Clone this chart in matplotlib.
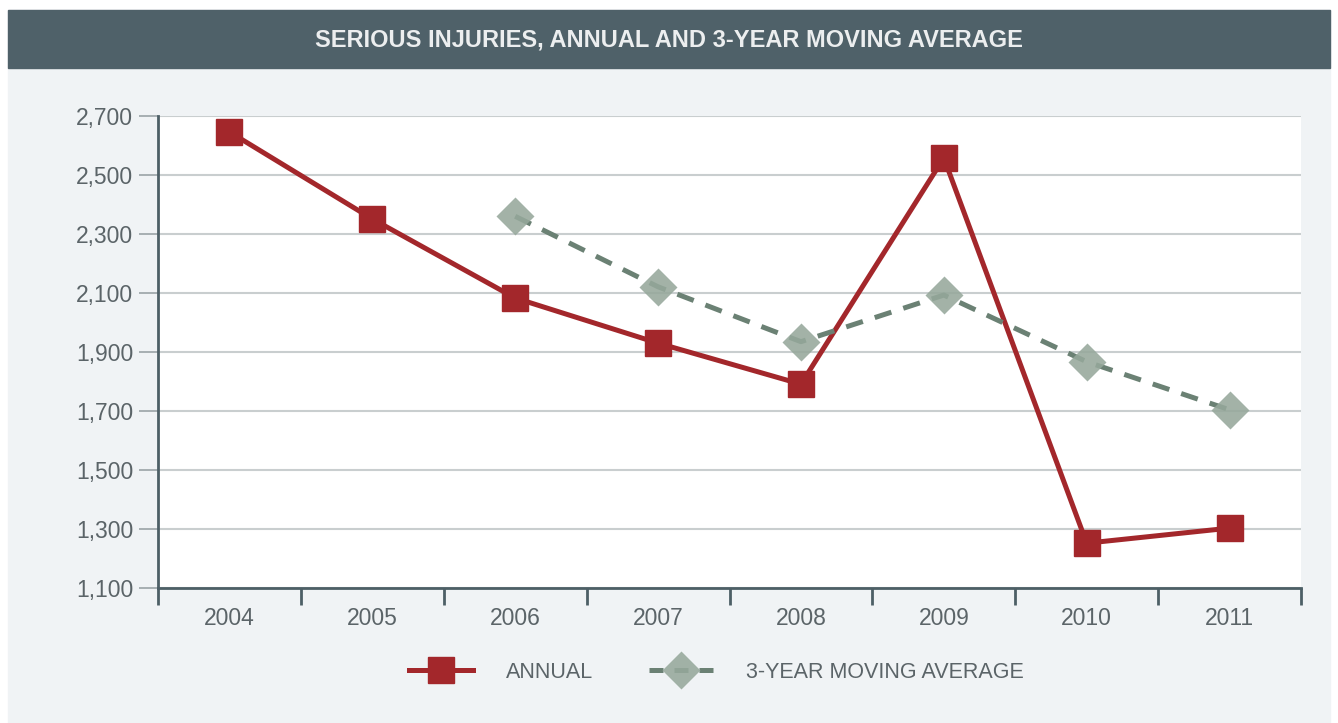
import matplotlib.pyplot as plt
from matplotlib.patches import Rectangle
from matplotlib.lines import Line2D
from matplotlib import font_manager

# dane
lata = ['2004', '2005', '2006', '2007', '2008', '2009', '2010', '2011']
roczne = [2646, 2351, 2083, 1930, 1791, 2558, 1252, 1303]
srednia_3l = [None, None, 2360, 2121, 1935, 2093, 1867, 1704]
y_ticks = [1100, 1300, 1500, 1700, 1900, 2100, 2300, 2500, 2700]

nazwy = {f.name for f in font_manager.fontManager.ttflist}
font = 'Liberation Sans Narrow' if 'Liberation Sans Narrow' in nazwy else 'Liberation Sans'
plt.rcParams['font.family'] = [font, 'DejaVu Sans']

tlo = '#f0f3f5'
czerwony = '#a3272b'
zielony = '#6b8174'
romb = '#96a89b'
szary_txt = '#5b6468'
os_kolor = '#4d5f66'

fig = plt.figure(figsize=(13.38, 7.23), dpi=100)
fig.patch.set_facecolor('white')

# tlo i pasek tytulu
fig.patches.append(Rectangle((8 / 1338, 0), 1322 / 1338, 1 - 10 / 723,
                             transform=fig.transFigure, color=tlo, zorder=-2))
fig.patches.append(Rectangle((8 / 1338, 1 - 68 / 723), 1322 / 1338, 58 / 723,
                             transform=fig.transFigure, color='#4f6169', zorder=-1))
fig.text(0.5, 1 - 40 / 723, 'SERIOUS INJURIES, ANNUAL AND 3-YEAR MOVING AVERAGE',
         ha='center', va='center', color='#eceeef', fontsize=17, fontweight='bold')

ax = fig.add_axes([158 / 1338, 1 - 588 / 723, (1301 - 158) / 1338, (588 - 116) / 723])
ax.set_zorder(2)
ax.set_facecolor('white')

x = list(range(len(lata)))
ax.plot(x, roczne, color=czerwony, lw=3.6, marker='s', ms=19,
        markerfacecolor=czerwony, markeredgecolor=czerwony, zorder=3, label='ANNUAL')
x_sr = [i for i, v in zip(x, srednia_3l) if v is not None]
y_sr = [v for v in srednia_3l if v is not None]
ax.plot(x_sr, y_sr, color=zielony, lw=3.6, ls=(0, (3.5, 2.5)), zorder=4)
ax.plot(x_sr, y_sr, ls='none', marker='D', ms=19.5, markerfacecolor=romb,
        markeredgecolor='none', alpha=0.88, zorder=5)

ax.set_xlim(-0.5, len(lata) - 0.5)
ax.set_ylim(1100, 2700)
ax.set_yticks(y_ticks)
ax.set_yticklabels([f'{v:,}' for v in y_ticks])
ax.set_xticks(x)
ax.set_xticklabels(lata)
ax.set_xticks([i - 0.5 for i in range(len(lata) + 1)], minor=True)
ax.tick_params(axis='x', which='major', length=0, pad=14, labelsize=16.5, labelcolor=szary_txt)
ax.tick_params(axis='x', which='minor', length=12, width=2, color=os_kolor, direction='out')
ax.tick_params(axis='y', length=14, width=1.2, color='#9aa3a6', pad=4,
               labelsize=16.5, labelcolor=szary_txt)
ax.grid(axis='y', color='#c9cecf', lw=1.5, zorder=1)
for s in ['top', 'right']:
    ax.spines[s].set_visible(False)
ax.spines['left'].set_color(os_kolor)
ax.spines['left'].set_linewidth(2)
ax.spines['bottom'].set_color(os_kolor)
ax.spines['bottom'].set_linewidth(2)

uchwyty = [
    Line2D([], [], color=czerwony, lw=3.6, marker='s', ms=19),
    (Line2D([], [], color=zielony, lw=3.6, ls=(0, (2.8, 2.2))),
     Line2D([], [], ls='none', marker='D', ms=19.5, markerfacecolor=romb,
            markeredgecolor='none', alpha=0.88)),
]
leg = fig.legend(uchwyty, ['ANNUAL', '3-YEAR MOVING AVERAGE'], loc='center',
                 bbox_to_anchor=(716 / 1338, 1 - 672 / 723), ncol=2, frameon=False,
                 fontsize=15.5, handlelength=3.0, columnspacing=2.6, handletextpad=1.5)
for t in leg.get_texts():
    t.set_color(szary_txt)

fig.savefig('out.png', dpi=100, facecolor='white')
